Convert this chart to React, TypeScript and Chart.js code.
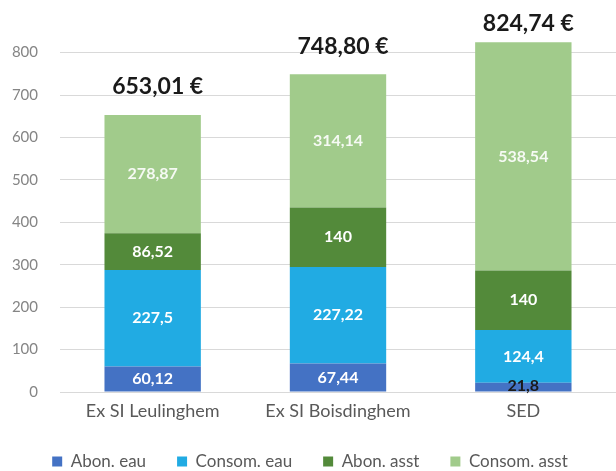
import React, { useEffect, useRef } from "react";
import { Chart, registerables } from "chart.js";

Chart.register(...registerables);

const categories = ["Ex SI Leulinghem", "Ex SI Boisdinghem", "SED"];
const abonEau = [60.12, 67.44, 21.8];
const consomEau = [227.5, 227.22, 124.4];
const abonAsst = [86.52, 140, 140];
const consomAsst = [278.87, 314.14, 538.54];
const totals = ["653,01 €", "748,80 €", "824,74 €"];
const yTicks = [0, 100, 200, 300, 400, 500, 600, 700, 800];

const FONT = "Lato, 'Open Sans', sans-serif";

const fmt = (v: number) => String(v).replace(".", ",");

const labelPlugin = {
  id: "segLabels",
  afterDatasetsDraw(chart: any) {
    const ctx = chart.ctx;
    ctx.save();
    ctx.textAlign = "center";
    ctx.textBaseline = "middle";
    chart.data.datasets.forEach((ds: any, di: number) => {
      const meta = chart.getDatasetMeta(di);
      meta.data.forEach((bar: any, i: number) => {
        const v = ds.data[i];
        const h = Math.abs(bar.base - bar.y);
        const y = (bar.y + bar.base) / 2;
        const small = h < 14;
        ctx.font = `bold 16px ${FONT}`;
        ctx.fillStyle = small ? "#1a1a1a" : di === 3 ? "rgba(255,255,255,0.9)" : "#ffffff";
        ctx.fillText(fmt(v), bar.x, small ? y - 1 : y);
      });
    });
    const last = chart.getDatasetMeta(chart.data.datasets.length - 1);
    const size = 23;
    ctx.font = `bold ${size}px ${FONT}`;
    ctx.fillStyle = "#1a1a1a";
    last.data.forEach((bar: any, i: number) => {
      const y = Math.max(bar.y - 28, size + 1);
      ctx.fillText(totals[i], bar.x + 5, y);
    });
    ctx.restore();
  },
};

export default function App() {
  const ref = useRef<HTMLCanvasElement>(null);
  useEffect(() => {
    document.body.style.margin = "0";
    const chart = new Chart(ref.current!, {
      type: "bar",
      data: {
        labels: categories,
        datasets: [
          { label: "Abon. eau", data: abonEau, backgroundColor: "#4472C4" },
          { label: "Consom. eau", data: consomEau, backgroundColor: "#21ABE3" },
          { label: "Abon. asst", data: abonAsst, backgroundColor: "#538A3A" },
          { label: "Consom. asst", data: consomAsst, backgroundColor: "#A1CB8B" },
        ],
      },
      options: {
        animation: false,
        responsive: false,
        maintainAspectRatio: false,
        layout: { padding: { top: 0, left: 0, right: -4, bottom: -9 } },
        datasets: { bar: { categoryPercentage: 0.52, barPercentage: 1 } },
        plugins: {
          legend: {
            position: "bottom",
            labels: {
              boxWidth: 10,
              boxHeight: 10,
              padding: 31,
              color: "#595959",
              font: { family: FONT, size: 17 },
            },
          },
          tooltip: { enabled: false },
        },
        scales: {
          x: {
            stacked: true,
            grid: { display: false, drawTicks: false },
            border: { display: false },
            ticks: { color: "#595959", font: { family: FONT, size: 18 }, padding: 8 },
            afterFit: (s: any) => { s.height = 30; },
          },
          y: {
            stacked: true,
            min: 0,
            max: 851,
            afterBuildTicks: (axis: any) => {
              axis.ticks = yTicks.map((v) => ({ value: v }));
            },
            grid: { color: "#d9d9d9", lineWidth: 1, drawTicks: false },
            border: { display: false },
            ticks: { color: "#858585", font: { family: FONT, size: 15 }, padding: 22 },
            afterFit: (s: any) => { s.width = 60; },
          },
        },
      },
      plugins: [labelPlugin],
    });
    return () => chart.destroy();
  }, []);
  return (
    <div style={{ width: 616, height: 471 }}>
      <canvas ref={ref} width={616} height={471} />
    </div>
  );
}
